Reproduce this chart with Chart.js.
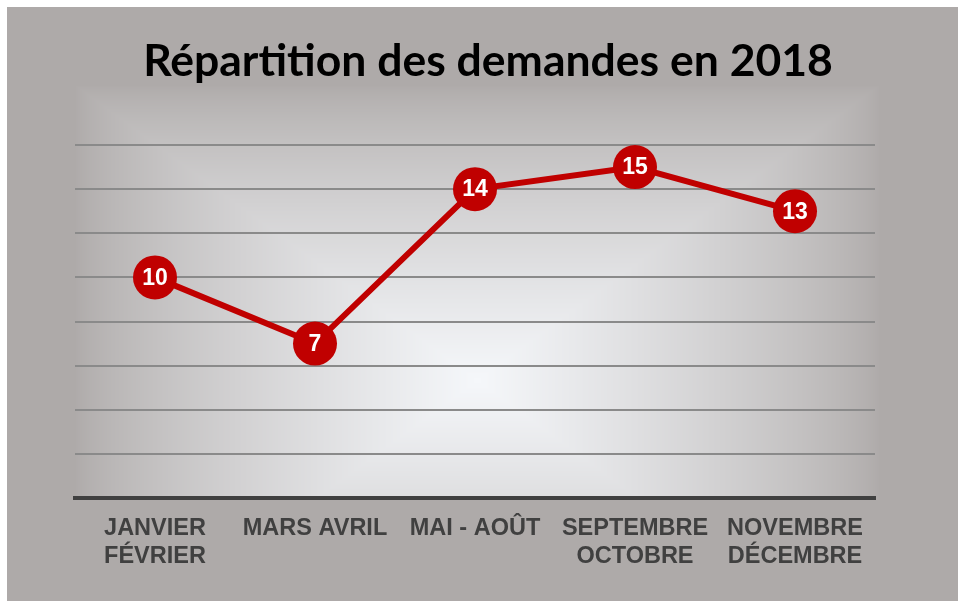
<!DOCTYPE html>
<html><head><meta charset="utf-8">
<script src="https://cdn.jsdelivr.net/npm/chart.js@4"></script>
<style>html,body{margin:0;padding:0;background:#fff;overflow:hidden}#wrap{width:958px;height:601px;position:relative}</style>
</head><body><div id="wrap"><canvas id="c" width="958" height="601"></canvas></div>
<script>
const chartTitle = 'Répartition des demandes en 2018';
const categories = [['JANVIER', 'FÉVRIER'], 'MARS AVRIL', 'MAI - AOÛT', ['SEPTEMBRE', 'OCTOBRE'], ['NOVEMBRE', 'DÉCEMBRE']];
const demandes = [10, 7, 14, 15, 13];
const yMin = 0, yMax = 16, yStep = 2;

const bgPlugin = {
  id: 'bgGlow',
  beforeDraw(chart) {
    const ctx = chart.ctx, w = chart.width, h = chart.height;
    if (!this.img) {
      const img = ctx.createImageData(w, h), d = img.data;
      const gray = [174, 170, 169], ctr = [245, 247, 250];
      const cx = 477, cy = 380, hw = 402, hh = 295;
      for (let y = 0; y < h; y++) {
        for (let x = 0; x < w; x++) {
          const i = (y * w + x) * 4;
          let c;
          if (x < 7 || y < 7) c = [255, 255, 255];
          else if (x >= 75 && x <= 880 && y >= 86 && y <= 499) {
            const t = Math.min(1, Math.max(Math.abs(x - cx) / hw, Math.abs(y - cy) / hh));
            const b = Math.pow(1 - t, 0.75);
            c = [gray[0] + (ctr[0] - gray[0]) * b, gray[1] + (ctr[1] - gray[1]) * b, gray[2] + (ctr[2] - gray[2]) * b];
          } else c = gray;
          d[i] = c[0]; d[i + 1] = c[1]; d[i + 2] = c[2]; d[i + 3] = 255;
        }
      }
      this.img = img;
    }
    ctx.putImageData(this.img, 0, 0);
  }
};

const labelPlugin = {
  id: 'pointLabels',
  afterDatasetsDraw(chart) {
    const ctx = chart.ctx;
    chart.data.datasets.forEach((ds, di) => {
      const meta = chart.getDatasetMeta(di);
      meta.data.forEach((pt, i) => {
        ctx.save();
        ctx.font = 'bold 23px "Liberation Sans", Arial, sans-serif';
        ctx.fillStyle = '#ffffff';
        ctx.textAlign = 'center';
        ctx.textBaseline = 'middle';
        ctx.fillText(String(ds.data[i]), pt.x, pt.y + 1);
        ctx.restore();
      });
    });
  }
};

const titleShift = {
  id: 'titleShift',
  afterLayout(chart) {
    const t = chart.titleBlock;
    if (t) { t.left = 98; t.right = 878; }
  }
};

new Chart(document.getElementById('c'), {
  type: 'line',
  data: {
    labels: categories,
    datasets: [{
      data: demandes,
      borderColor: '#c00000',
      borderWidth: 6,
      backgroundColor: '#c00000',
      pointBackgroundColor: '#c00000',
      pointBorderColor: '#c00000',
      pointBorderWidth: 0,
      pointRadius: 22,
      pointHoverRadius: 22,
      tension: 0,
      clip: false
    }]
  },
  options: {
    responsive: false,
    animation: false,
    devicePixelRatio: 1,
    events: [],
    layout: { autoPadding: false, padding: { left: 75, right: 83, top: 0, bottom: 14.6 } },
    plugins: {
      legend: { display: false },
      tooltip: { enabled: false },
      title: {
        display: true,
        text: chartTitle,
        color: '#000000',
        font: { family: 'Lato', size: 44.5, weight: 'bold', lineHeight: 1.2 },
        padding: { top: 35, bottom: 56.6 }
      }
    },
    scales: {
      x: {
        offset: true,
        grid: { display: false, drawTicks: false },
        border: { display: true, color: '#404040', width: 4 },
        ticks: {
          color: '#404040',
          padding: 16,
          maxRotation: 0,
          autoSkip: false,
          font: { family: '"Liberation Sans", Arial, sans-serif', size: 23.5, weight: 'bold', lineHeight: 1.2 }
        }
      },
      y: {
        min: yMin, max: yMax,
        ticks: { display: false, stepSize: yStep },
        grid: { color: '#8a8a8a', lineWidth: 2, drawTicks: false },
        border: { display: false }
      }
    }
  },
  plugins: [bgPlugin, labelPlugin, titleShift]
});
</script>
</body></html>
